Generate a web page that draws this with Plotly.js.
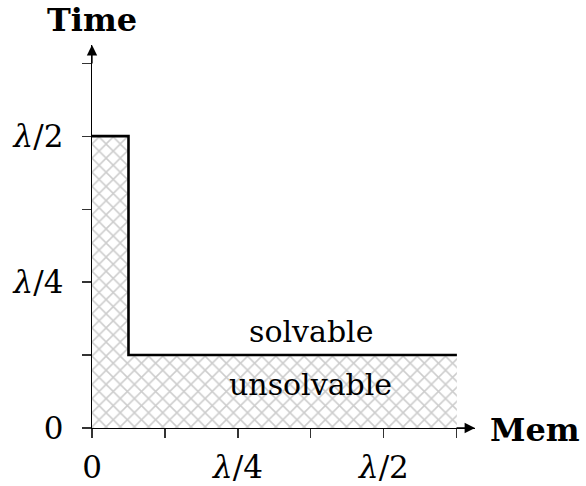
<!DOCTYPE html>
<html><head><meta charset="utf-8">
<script src="https://cdn.plot.ly/plotly-3.0.1.min.js"></script>
<style>body{margin:0;background:#fff}</style>
</head><body><div id="chart" style="width:586px;height:486px"></div>
<script>
// values in units of lambda
const regionX = [0, 0, 0.0625, 0.0625, 0.625, 0.625, 0];
const regionY = [0, 0.5, 0.5, 0.125, 0.125, 0, 0];
const boundaryX = [0, 0.0625, 0.0625, 0.625];
const boundaryY = [0.5, 0.5, 0.125, 0.125];
const tickVals = [0, 0.125, 0.25, 0.375, 0.5, 0.625];
const tickText = ['0', '', '<i>λ</i>/4', '', '<i>λ</i>/2', ''];
const xLabel = 'Mem';
const yLabel = 'Time';
const regionLabels = ['solvable', 'unsolvable'];
const labelPos = [[0.375, 0.166], [0.375, 0.075]];

const xMax = 0.656, yMax = 0.656;
const font = 'DejaVu Serif, serif';

const traces = [
  {x: regionX, y: regionY, mode: 'none', fill: 'toself', fillcolor: 'white',
   fillpattern: {shape: 'x', fgcolor: '#cdcdcd', bgcolor: 'white', size: 10, solidity: 0.28},
   hoverinfo: 'skip', showlegend: false},
  {x: boundaryX, y: boundaryY, mode: 'lines', line: {color: 'black', width: 2.6},
   hoverinfo: 'skip', showlegend: false}
];

const axisCommon = {
  showgrid: false, zeroline: false, showline: true, linecolor: 'black', linewidth: 1.4,
  ticks: 'outside', ticklen: 9, tickwidth: 1.1, tickcolor: '#333',
  tickmode: 'array', tickvals: tickVals, ticktext: tickText,
  tickfont: {family: font, size: 31, color: 'black'}, fixedrange: true
};

const layout = {
  width: 586, height: 486,
  margin: {l: 92, r: 111, t: 45, b: 58},
  paper_bgcolor: 'white', plot_bgcolor: 'white',
  xaxis: Object.assign({}, axisCommon, {range: [0, xMax], ticklabelstandoff: 2}),
  yaxis: Object.assign({}, axisCommon, {range: [0, yMax], ticklabelstandoff: 12}),
  annotations: [
    {x: xMax, y: 0, xref: 'x', yref: 'y', ax: -20, ay: 0, showarrow: true, arrowhead: 2,
     arrowsize: 1.6, arrowwidth: 1.3, arrowcolor: 'black', text: ''},
    {x: 0, y: yMax, xref: 'x', yref: 'y', ax: 0, ay: 20, showarrow: true, arrowhead: 2,
     arrowsize: 1.6, arrowwidth: 1.3, arrowcolor: 'black', text: ''},
    {x: 1, y: 0, xref: 'paper', yref: 'y', xanchor: 'left', yanchor: 'middle', xshift: 13, yshift: -2,
     text: '<b>' + xLabel + '</b>', showarrow: false, font: {family: font, size: 32, color: 'black'}},
    {x: 0, y: 1, xref: 'paper', yref: 'paper', xanchor: 'center', yanchor: 'bottom', yshift: 4,
     text: '<b>' + yLabel + '</b>', showarrow: false, font: {family: font, size: 32, color: 'black'}},
    {x: labelPos[0][0], y: labelPos[0][1], xref: 'x', yref: 'y', text: regionLabels[0],
     showarrow: false, font: {family: font, size: 30, color: 'black'}},
    {x: labelPos[1][0], y: labelPos[1][1], xref: 'x', yref: 'y', text: regionLabels[1],
     showarrow: false, font: {family: font, size: 30, color: 'black'}}
  ]
};

Plotly.newPlot('chart', traces, layout, {displayModeBar: false, staticPlot: true});
</script>
</body></html>
